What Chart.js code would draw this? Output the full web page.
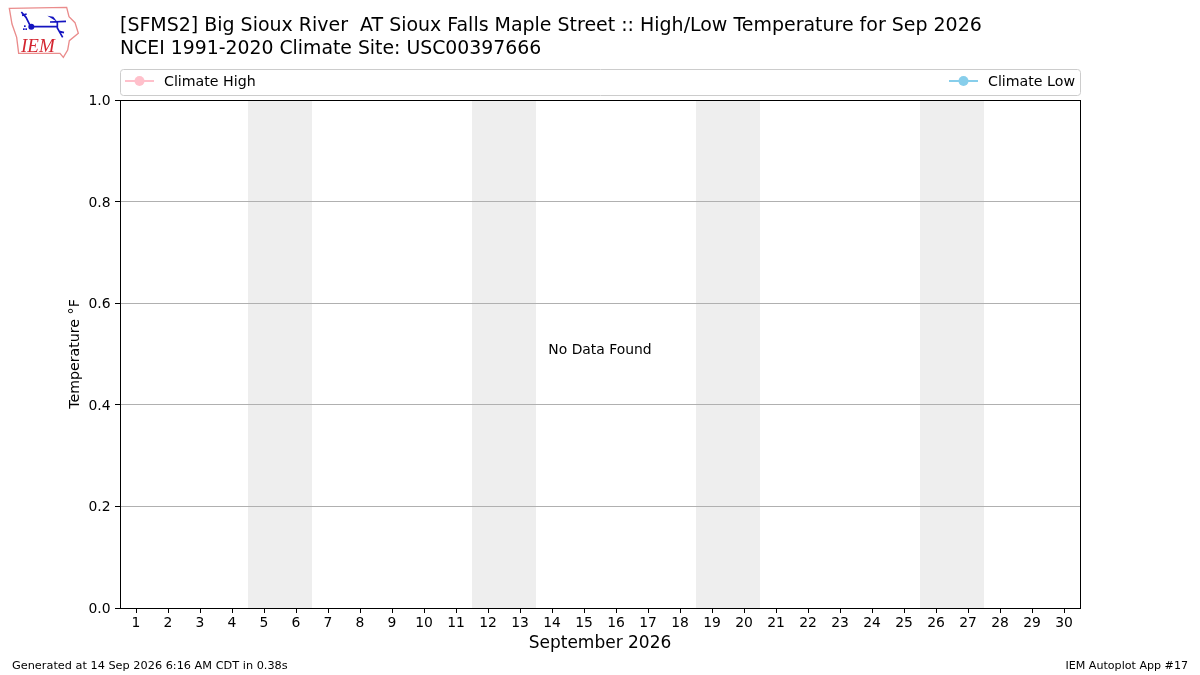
<!DOCTYPE html>
<html>
<head>
<meta charset="utf-8">
<title>High/Low Temperature</title>
<style>
  html, body { margin: 0; padding: 0; background: #fff; }
  canvas { display: block; }
</style>
<script src="https://cdn.jsdelivr.net/npm/chart.js@4/dist/chart.umd.min.js"></script>
</head>
<body>
<canvas id="plot" width="1200" height="675"></canvas>
<script>
// x axis days, every one gets a tick
const days = [1, 2, 3, 4, 5, 6, 7, 8, 9, 10, 11, 12, 13, 14, 15, 16, 17, 18, 19, 20, 21, 22, 23, 24, 25, 26, 27, 28, 29, 30];
const yTicks = [0, 0.2, 0.4, 0.6, 0.8, 1.0];
// no observations in this plot, both series stay empty
const climateHigh = [];
const climateLow = [];
// saturday + sunday of each weekend
const weekends = [[5, 6], [12, 13], [19, 20], [26, 27]];

const titleLines = [
  '[SFMS2] Big Sioux River  AT Sioux Falls Maple Street :: High/Low Temperature for Sep 2026',
  'NCEI 1991-2020 Climate Site: USC00397666'
];
const FONT = '"DejaVu Sans"';

function drawLogo(c) {
  c.save();
  c.scale(1 / 3, 1 / 3);
  c.strokeStyle = '#ea8c8c';
  c.lineWidth = 4;
  c.beginPath();
  [[28, 25], [200, 22], [207, 50], [225, 68], [235, 100], [208, 122], [203, 150], [190, 172], [180, 160], [56, 160], [50, 112], [36, 72]]
    .forEach((p, i) => i ? c.lineTo(p[0], p[1]) : c.moveTo(p[0], p[1]));
  c.closePath();
  c.stroke();
  c.strokeStyle = c.fillStyle = '#1414c0';
  c.lineWidth = 5;
  c.beginPath();
  c.moveTo(92, 80); c.lineTo(172, 80);
  c.moveTo(150, 66); c.lineTo(198, 64);
  c.moveTo(172, 66); c.lineTo(172, 84); c.lineTo(188, 112);
  c.moveTo(64, 36); c.lineTo(78, 52); c.lineTo(92, 80);
  c.moveTo(66, 46); c.lineTo(80, 42);
  c.moveTo(178, 94); c.lineTo(192, 98);
  c.stroke();
  c.beginPath(); c.arc(94, 80, 9, 0, Math.PI * 2); c.fill();
  c.beginPath(); c.moveTo(142, 47); c.lineTo(160, 50); c.lineTo(172, 66); c.closePath(); c.fill();
  c.fillRect(72, 76, 5, 5); c.fillRect(69, 85, 5, 5); c.fillRect(76, 85, 5, 5);
  c.fillStyle = '#d42530';
  c.scale(3, 3);
  c.font = 'italic 19px "Liberation Serif"';
  c.textAlign = 'left';
  c.textBaseline = 'alphabetic';
  c.fillText('IEM', 21, 51.5);
  c.restore();
}

function legendEntry(c, x, color, label, y) {
  c.strokeStyle = c.fillStyle = color;
  c.lineWidth = 2;
  c.beginPath(); c.moveTo(x, y); c.lineTo(x + 29, y); c.stroke();
  c.beginPath(); c.arc(x + 14.5, y, 5, 0, Math.PI * 2); c.fill();
  c.fillStyle = '#000';
  c.font = '14.2px ' + FONT;
  c.textAlign = 'left';
  c.textBaseline = 'alphabetic';
  c.fillText(label, x + 39, y + 5);
}

const decorations = {
  id: 'decorations',
  // before the scales so the grid lines stay on top of the bands
  beforeDraw(chart) {
    const c = chart.ctx, area = chart.chartArea, x = chart.scales.x;
    c.save();
    c.fillStyle = '#eeeeee';
    weekends.forEach(w => {
      const l = x.getPixelForValue(w[0] - 0.5), r = x.getPixelForValue(w[1] + 0.5);
      c.fillRect(l, area.top, r - l, area.bottom - area.top);
    });
    c.restore();
  },
  afterDraw(chart) {
    const c = chart.ctx, area = chart.chartArea, ds = chart.data.datasets, y = chart.scales.y;
    c.save();
    // frame
    c.strokeStyle = '#000';
    c.lineWidth = 1;
    c.strokeRect(area.left + 0.5, area.top + 0.5, area.right - area.left, area.bottom - area.top);

    // y tick labels, chart.js sits them a pixel high
    c.fillStyle = '#000';
    c.font = '13.9px ' + FONT;
    c.textAlign = 'right';
    c.textBaseline = 'alphabetic';
    y.ticks.forEach(t => c.fillText(t.value.toFixed(1), 110.5, y.getPixelForValue(t.value) + 5));

    // titles
    c.textAlign = 'left';
    c.font = '18.98px ' + FONT;
    c.fillText(titleLines[0], 120, 31);
    c.font = '18.85px ' + FONT;
    c.fillText(titleLines[1], 120, 54);

    // legend box
    c.strokeStyle = '#cccccc';
    c.beginPath();
    c.roundRect(120.5, 69.5, 960, 26, 3);
    c.stroke();
    legendEntry(c, 125, ds[0].borderColor, ds[0].label, 81);
    legendEntry(c, 949, ds[1].borderColor, ds[1].label, 81);

    // empty plot message
    c.fillStyle = '#000';
    c.font = '13.9px ' + FONT;
    c.textAlign = 'center';
    c.textBaseline = 'alphabetic';
    c.fillText('No Data Found', chart.scales.x.getPixelForValue(15.5), y.getPixelForValue(0.5));

    // footers
    c.font = '11.3px ' + FONT;
    c.textAlign = 'left';
    c.fillText('Generated at 14 Sep 2026 6:16 AM CDT in 0.38s', 12, 669);
    c.font = '11.1px ' + FONT;
    c.textAlign = 'right';
    c.fillText('IEM Autoplot App #17', 1188, 669);

    drawLogo(c);
    c.restore();
  }
};

new Chart(document.getElementById('plot').getContext('2d'), {
  type: 'line',
  data: {
    datasets: [
      { label: 'Climate High', data: climateHigh.map((v, i) => ({ x: days[i], y: v })), borderColor: '#ffc0cb', backgroundColor: '#ffc0cb' },
      { label: 'Climate Low', data: climateLow.map((v, i) => ({ x: days[i], y: v })), borderColor: '#87ceeb', backgroundColor: '#87ceeb' }
    ]
  },
  options: {
    responsive: false,
    animation: false,
    devicePixelRatio: 1,
    layout: { padding: { left: 67, top: 100, right: 120, bottom: 21 } },
    plugins: { legend: { display: false }, title: { display: false }, tooltip: { enabled: false } },
    scales: {
      x: {
        type: 'linear',
        min: 0.5,
        max: 30.5,
        afterFit(s) { s.height = 46; },
        afterBuildTicks(s) { s.ticks = days.map(d => ({ value: d })); },
        grid: { drawOnChartArea: false, drawTicks: true, tickLength: 5, tickColor: '#000', tickWidth: 1 },
        border: { display: false },
        ticks: { autoSkip: false, maxRotation: 0, color: '#000', padding: 2, font: { family: FONT, size: 13.9 }, callback: v => String(v) },
        title: { display: true, text: 'September 2026', color: '#000', padding: 0, font: { family: FONT, size: 17 } }
      },
      y: {
        min: 0,
        max: 1,
        afterFit(s) { s.width = 53; },
        afterBuildTicks(s) { s.ticks = yTicks.map(v => ({ value: v })); },
        grid: { color: '#b0b0b0', lineWidth: 1, drawTicks: true, tickLength: 5, tickColor: '#000', tickWidth: 1 },
        border: { display: false },
        ticks: { display: false },
        title: { display: true, text: 'Temperature °F', color: '#000', padding: 0, font: { family: FONT, size: 14.2 } }
      }
    }
  },
  plugins: [decorations]
});
</script>
</body>
</html>
